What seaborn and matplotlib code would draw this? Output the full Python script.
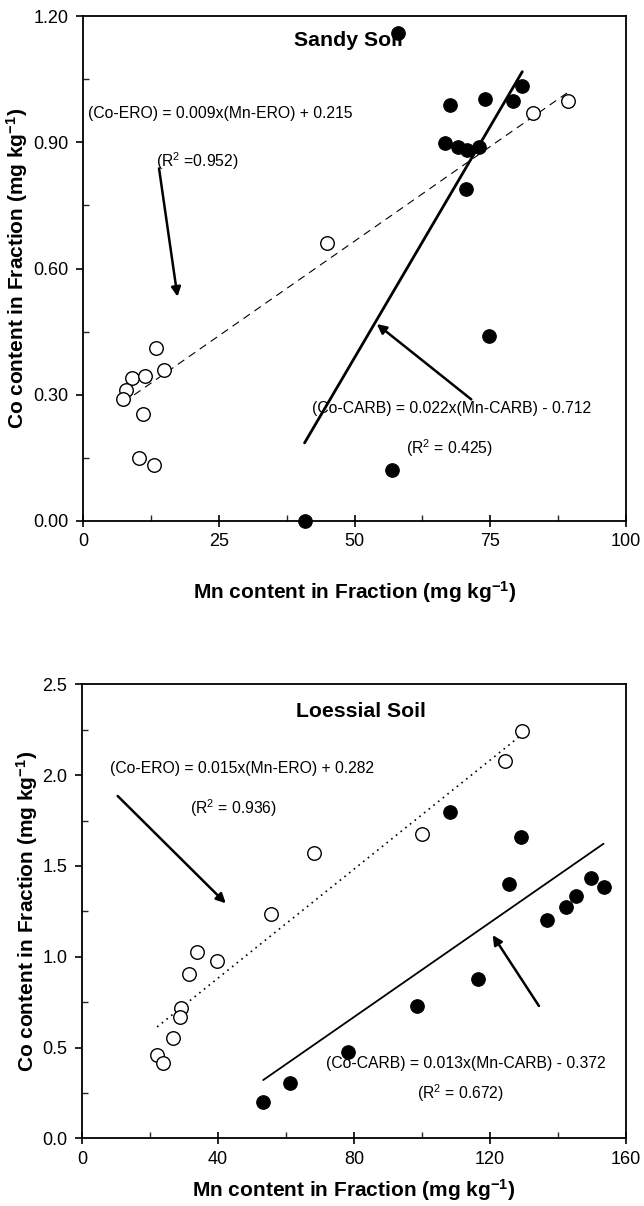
import numpy as np
import pandas as pd
import matplotlib
matplotlib.use("Agg")
import matplotlib.pyplot as plt
from matplotlib.ticker import MultipleLocator, FormatStrFormatter
import seaborn as sns

# ---- Sandy soil: Mn vs Co in the ERO and CARB fractions (mg/kg) ----
sandy_ero_mn = [89.4, 82.8, 45.0, 13.5, 14.9, 9.1, 11.4, 7.9, 7.4, 11.0, 10.4, 13.0]
sandy_ero_co = [0.998, 0.969, 0.660, 0.412, 0.358, 0.341, 0.345, 0.311, 0.290, 0.254, 0.149, 0.133]
sandy_carb_mn = [58.0, 67.5, 74.1, 79.2, 80.9, 66.7, 69.1, 70.7, 73.0, 70.5, 74.7, 56.9, 40.8]
sandy_carb_co = [1.160, 0.988, 1.003, 0.998, 1.034, 0.899, 0.889, 0.882, 0.888, 0.789, 0.440, 0.120, 0.000]
sandy_ero_fit = (0.009, 0.215)     # slope, intercept
sandy_carb_fit = (0.022, -0.712)
sandy_r2 = (0.952, 0.425)          # ERO, CARB

# ---- Loessial soil ----
loess_ero_mn = [129.5, 124.4, 99.9, 68.2, 55.7, 33.8, 39.6, 31.4, 29.2, 28.7, 26.9, 22.1, 23.8]
loess_ero_co = [2.245, 2.079, 1.674, 1.569, 1.235, 1.024, 0.976, 0.905, 0.716, 0.666, 0.551, 0.459, 0.413]
loess_carb_mn = [108.1, 129.0, 125.6, 149.8, 153.4, 145.2, 142.3, 136.7, 116.4, 98.4, 78.3, 61.2, 53.3]
loess_carb_co = [1.795, 1.657, 1.400, 1.435, 1.385, 1.334, 1.275, 1.202, 0.875, 0.729, 0.477, 0.305, 0.200]
loess_ero_fit = (0.015, 0.282)
loess_carb_fit = (0.013, -0.372)
loess_r2 = (0.936, 0.672)

sns.set_theme(style="ticks")
plt.rcParams["font.family"] = ["Liberation Sans", "DejaVu Sans"]
plt.rcParams["mathtext.default"] = "regular"
plt.rcParams["axes.linewidth"] = 1.3

fig = plt.figure(figsize=(6.44, 12.06), dpi=100)
ax1 = fig.add_axes([0.1289, 0.5680, 0.8432, 0.4187])
ax2 = fig.add_axes([0.1273, 0.0561, 0.8447, 0.3765])

TICK_FS = 13
LABEL_FS = 15
TITLE_FS = 15.3
ANN_FS = 11.3
MS = 95


def fit_frame(mn, fit):
    xs = np.array([min(mn), max(mn)])
    return pd.DataFrame({"x": xs, "y": fit[0] * xs + fit[1]})


def scatter_pair(ax, ero_mn, ero_co, carb_mn, carb_co):
    sns.scatterplot(x=carb_mn, y=carb_co, ax=ax, s=MS, color="black",
                    edgecolor="black", linewidth=0.8, zorder=4, clip_on=False)
    sns.scatterplot(x=ero_mn, y=ero_co, ax=ax, s=MS, facecolor="white",
                    edgecolor="black", linewidth=1.0, zorder=4, clip_on=False)


def style_axes(ax, xmax, xmaj, ymax, ymaj, yfmt):
    ax.set_xlim(0, xmax)
    ax.set_ylim(0, ymax)
    ax.xaxis.set_major_locator(MultipleLocator(xmaj))
    ax.xaxis.set_minor_locator(MultipleLocator(xmaj / 2))
    ax.yaxis.set_major_locator(MultipleLocator(ymaj))
    ax.yaxis.set_minor_locator(MultipleLocator(ymaj / 2))
    ax.yaxis.set_major_formatter(FormatStrFormatter(yfmt))
    ax.tick_params(axis="x", which="major", direction="inout", length=9,
                   width=1.2, pad=4.5, labelsize=TICK_FS, colors="black")
    ax.tick_params(axis="x", which="minor", direction="in", length=4, width=1.0)
    ax.tick_params(axis="y", which="major", direction="out", length=5,
                   width=1.2, pad=5.5, labelsize=TICK_FS, colors="black")
    ax.tick_params(axis="y", which="minor", direction="in", length=4, width=1.0)
    for sp in ax.spines.values():
        sp.set_visible(True)
        sp.set_color("black")
    ax.set_facecolor("white")
    ax.set_xlabel("Mn content in Fraction (mg kg$^{-1}$)", fontsize=LABEL_FS,
                  fontweight="bold", color="black")
    ax.set_ylabel("Co content in Fraction (mg kg$^{-1}$)", fontsize=LABEL_FS,
                  fontweight="bold", color="black")


def arrow(ax, tail, head, lw=1.8):
    ax.annotate("", xy=head, xytext=tail,
                arrowprops=dict(arrowstyle="-|>", color="black", lw=lw,
                                mutation_scale=14, shrinkA=0, shrinkB=0),
                zorder=5)


# ---------------- Sandy soil ----------------
style_axes(ax1, 100, 25, 1.2, 0.3, "%.2f")
d = fit_frame(sandy_ero_mn, sandy_ero_fit)
sns.lineplot(data=d, x="x", y="y", ax=ax1, color="black", lw=0.8,
             linestyle=(0, (7, 5)), zorder=3)
d = fit_frame(sandy_carb_mn, sandy_carb_fit)
sns.lineplot(data=d, x="x", y="y", ax=ax1, color="black", lw=2.0, zorder=3)
scatter_pair(ax1, sandy_ero_mn, sandy_ero_co, sandy_carb_mn, sandy_carb_co)

ax1.text(48.8, 1.141, "Sandy Soil", ha="center", va="center",
         fontsize=TITLE_FS, fontweight="bold", color="black", zorder=2)
ax1.text(0.9, 0.969,
         f"(Co-ERO) = {sandy_ero_fit[0]:.3f}x(Mn-ERO) + {sandy_ero_fit[1]:.3f}",
         ha="left", va="center", fontsize=ANN_FS, color="black")
ax1.text(13.4, 0.854, f"(R$^2$ ={sandy_r2[0]:.3f})", ha="left", va="center",
         fontsize=ANN_FS, color="black")
ax1.text(42.1, 0.268,
         f"(Co-CARB) = {sandy_carb_fit[0]:.3f}x(Mn-CARB) - {abs(sandy_carb_fit[1]):.3f}",
         ha="left", va="center", fontsize=ANN_FS, color="black")
ax1.text(59.4, 0.174, f"(R$^2$ = {sandy_r2[1]:.3f})", ha="left", va="center",
         fontsize=ANN_FS, color="black")
arrow(ax1, (14.0, 0.838), (17.4, 0.533))
arrow(ax1, (71.5, 0.289), (54.1, 0.468))

ax1.xaxis.set_label_coords(0.5, -0.115)
ax1.yaxis.set_label_coords(-0.098, 0.5)

# ---------------- Loessial soil ----------------
style_axes(ax2, 160, 40, 2.5, 0.5, "%.1f")
d = fit_frame(loess_ero_mn, loess_ero_fit)
sns.lineplot(data=d, x="x", y="y", ax=ax2, color="black", lw=1.2,
             linestyle=(0, (1, 2.6)), zorder=3)
d = fit_frame(loess_carb_mn, loess_carb_fit)
sns.lineplot(data=d, x="x", y="y", ax=ax2, color="black", lw=1.3, zorder=3)
scatter_pair(ax2, loess_ero_mn, loess_ero_co, loess_carb_mn, loess_carb_co)

ax2.text(82.1, 2.349, "Loessial Soil", ha="center", va="center",
         fontsize=TITLE_FS, fontweight="bold", color="black")
ax2.text(8.2, 2.034,
         f"(Co-ERO) = {loess_ero_fit[0]:.3f}x(Mn-ERO) + {loess_ero_fit[1]:.3f}",
         ha="left", va="center", fontsize=ANN_FS, color="black")
ax2.text(31.8, 1.817, f"(R$^2$ = {loess_r2[0]:.3f})", ha="left", va="center",
         fontsize=ANN_FS, color="black")
ax2.text(71.9, 0.413,
         f"(Co-CARB) = {loess_carb_fit[0]:.3f}x(Mn-CARB) - {abs(loess_carb_fit[1]):.3f}",
         ha="left", va="center", fontsize=ANN_FS, color="black")
ax2.text(98.4, 0.248, f"(R$^2$ = {loess_r2[1]:.3f})", ha="left", va="center",
         fontsize=ANN_FS, color="black")
arrow(ax2, (10.5, 1.885), (42.3, 1.294))
arrow(ax2, (134.4, 0.729), (120.8, 1.119))

ax2.xaxis.set_label_coords(0.5, -0.085)
ax2.yaxis.set_label_coords(-0.077, 0.5)

fig.savefig("out.png", dpi=100, facecolor="white")
